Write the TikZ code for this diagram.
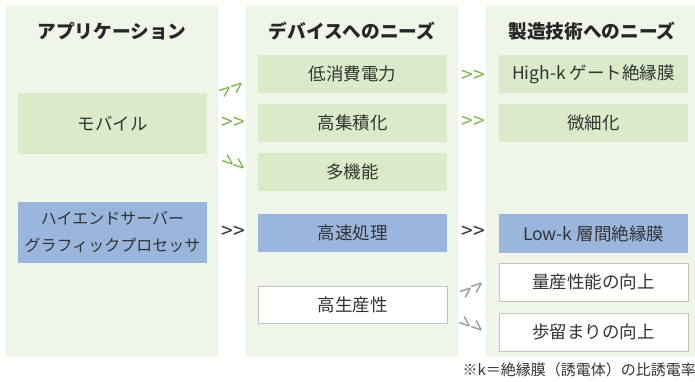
\documentclass[tikz,border=0pt]{standalone}
\usepackage{fontspec}
\setmainfont{Noto Sans CJK JP}
\definecolor{panelbg}{HTML}{EFF5E9}
\definecolor{greenbox}{HTML}{DBEBC9}
\definecolor{bluebox}{HTML}{9BB6DC}
\definecolor{txt}{HTML}{333333}
\definecolor{garrow}{HTML}{7AB648}
\definecolor{grarrow}{HTML}{959595}
\definecolor{wborder}{HTML}{C4C4C4}
\tikzset{
  panel/.style={fill=panelbg, draw=none, anchor=north west, inner sep=0pt, minimum width=212pt, minimum height=351pt},
  hdr/.style={font=\fontsize{18.7}{20}\selectfont\bfseries, text=black!85, inner sep=0pt},
  gbox/.style={fill=greenbox, draw=none, minimum width=189pt, minimum height=38pt, inner sep=0pt, text=txt, font=\fontsize{17.5}{20}\selectfont},
  bbox/.style={gbox, fill=bluebox},
  wbox/.style={gbox, fill=white, draw=wborder, line width=1pt},
  chev/.style={inner sep=0pt, font=\fontsize{21}{22}\selectfont},
  chevg/.style={chev, text=garrow},
  chevd/.style={chev, text=txt},
  chevgr/.style={chev, text=grarrow},
  chevup/.style={rotate=40},
  chevdn/.style={rotate=-40},
}
\begin{document}
\begin{tikzpicture}[x=1pt,y=-1pt]
\useasboundingbox (0,0) rectangle (695,382);
\begin{scope}
\clip (0,0) rectangle (695,382);
\node[panel] (pL) at (6,6) {};
\node[panel, minimum height=351pt] (pM) at (246,6) {};
\node[panel] (pR) at (486,6) {};
\end{scope}
\node[hdr] (hL) at (112,31) {アプリケーション};
\node[hdr] (hM) at (352,31) {デバイスへのニーズ};
\node[hdr] (hR) at (592,31) {製造技術へのニーズ};
% applications
\node[gbox, minimum height=61pt] (mob) at (112.5,123.5) {モバイル};
\node[bbox, minimum height=61pt, align=center, font=\fontsize{16}{27}\selectfont] (hiend) at (112.5,232.5) {ハイエンドサーバー\\グラフィックプロセッサ};
% device needs
\node[gbox] (lp) at (352.5,74) {低消費電力};
\node[gbox] (hi) at (352.5,123) {高集積化};
\node[gbox] (mf) at (352.5,172) {多機能};
\node[bbox] (hs) at (352.5,233) {高速処理};
\node[wbox, minimum height=37pt] (hp) at (352.5,304.5) {高生産性};
% manufacturing needs
\node[gbox] (hk) at (593.5,74) {High-k ゲート絶縁膜};
\node[gbox] (fine) at (593.5,123) {微細化};
\node[bbox, minimum height=39pt] (lk) at (593.5,233.5) {Low-k 層間絶縁膜};
\node[wbox] (mass) at (593.5,282) {量産性能の向上};
\node[wbox] (yld) at (593.5,332) {歩留まりの向上};
% chevrons
\node[chevg, chevup] (a1a) at (227,92) {>};
\node[chevg, chevup] (a1b) at (239,88) {>};
\node[chevg] (a2) at (233,123) {>{}>};
\node[chevg, chevdn] (a3a) at (228,162) {>};
\node[chevg, chevdn] (a3b) at (239,166) {>};
\node[chevd] (a4) at (233,232) {>{}>};
\node[chevg] (b1) at (473,76) {>{}>};
\node[chevg] (b2) at (473,122.5) {>{}>};
\node[chevd] (b3) at (473,232) {>{}>};
\node[chevgr, chevup] (b4a) at (468,293) {>};
\node[chevgr, chevup] (b4b) at (479,288) {>};
\node[chevgr, chevdn] (b5a) at (465,324) {>};
\node[chevgr, chevdn] (b5b) at (477,328) {>};
% footnote
\node[anchor=east, inner sep=0pt, text=txt, font=\fontsize{15}{16}\selectfont] (fn) at (696,370) {※k＝絶縁膜（誘電体）の比誘電率};
\end{tikzpicture}
\end{document}
